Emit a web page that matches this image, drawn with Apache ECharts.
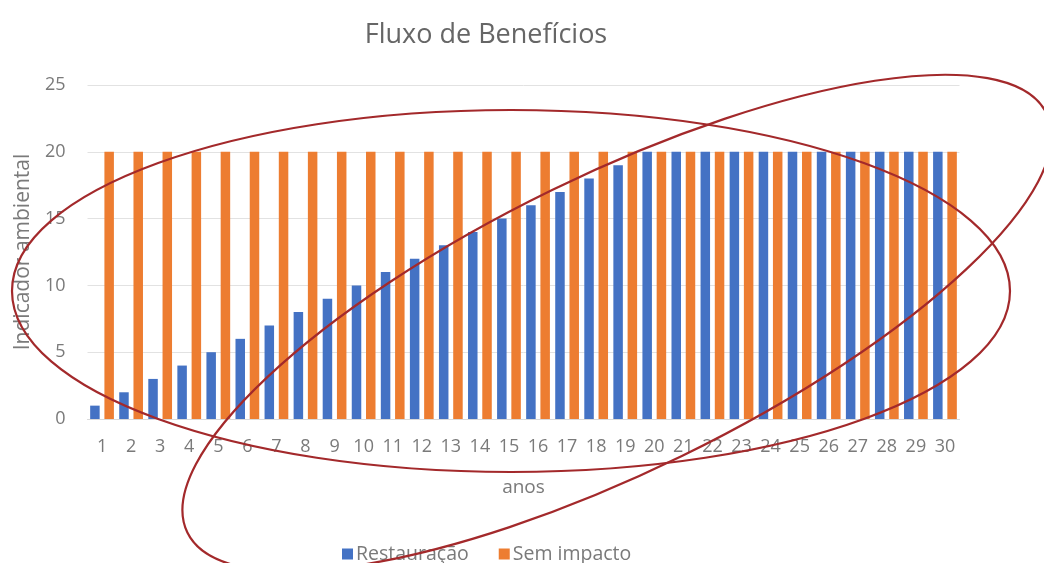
<!DOCTYPE html>
<html>
<head>
<meta charset="utf-8">
<script src="https://cdn.jsdelivr.net/npm/echarts@6/dist/echarts.min.js"></script>
<style>html,body{margin:0;padding:0;background:#fff;}#c{width:1044px;height:563px;}</style>
</head>
<body>
<div id="c"></div>
<script>
var anos = ['1','2','3','4','5','6','7','8','9','10','11','12','13','14','15','16','17','18','19','20','21','22','23','24','25','26','27','28','29','30'];
var restauracao = [1,2,3,4,5,6,7,8,9,10,11,12,13,14,15,16,17,18,19,20,20,20,20,20,20,20,20,20,20,20];
var semImpacto = [20,20,20,20,20,20,20,20,20,20,20,20,20,20,20,20,20,20,20,20,20,20,20,20,20,20,20,20,20,20];
var yTicks = [0,5,10,15,20,25];

var FONT = '"Open Sans", "Noto Sans", sans-serif';
var chart = echarts.init(document.getElementById('c'));
chart.setOption({
  animation: false,
  backgroundColor: '#ffffff',
  title: {
    text: 'Fluxo de Benefícios',
    left: 481, top: 17, textAlign: 'center',
    textStyle: { fontFamily: FONT, fontSize: 27, fontWeight: 'normal', color: '#666666' }
  },
  legend: {
    data: ['Restauração', 'Sem impacto'],
    left: 337, top: 539,
    itemWidth: 11, itemHeight: 11, itemGap: 30,
    icon: 'rect',
    textStyle: { fontFamily: FONT, fontSize: 19.5, color: '#7a7a7a', padding: [0, 0, 0, -2] }
  },
  grid: { left: 87.5, right: 84.5, top: 85, bottom: 144 },
  xAxis: {
    type: 'category',
    data: anos,
    name: 'anos',
    nameLocation: 'middle',
    nameGap: 59,
    nameTextStyle: { fontFamily: FONT, fontSize: 19, color: '#7a7a7a' },
    axisTick: { show: false },
    axisLine: { lineStyle: { color: '#d9d9d9', width: 1 } },
    axisLabel: { fontFamily: FONT, fontSize: 18, color: '#7a7a7a', margin: 19, interval: 0 }
  },
  yAxis: {
    type: 'value',
    min: yTicks[0], max: yTicks[yTicks.length - 1], interval: 5,
    name: 'Indicador ambiental',
    nameLocation: 'middle',
    nameGap: 54,
    nameTextStyle: { fontFamily: FONT, fontSize: 21, color: '#7a7a7a' },
    axisLine: { show: false },
    axisTick: { show: false },
    splitLine: { lineStyle: { color: '#e2e2e2', width: 1 } },
    axisLabel: { fontFamily: FONT, fontSize: 18, color: '#7a7a7a', margin: 22 }
  },
  series: [
    { name: 'Restauração', type: 'bar', data: restauracao, barWidth: 9.5, barGap: '50%', itemStyle: { color: '#4472C4' } },
    { name: 'Sem impacto', type: 'bar', data: semImpacto, barWidth: 9.5, barGap: '50%', itemStyle: { color: '#ED7D31' } }
  ],
  graphic: [
    { type: 'ellipse', z: 100, x: 511, y: 291, shape: { cx: 0, cy: 0, rx: 499, ry: 181 },
      style: { fill: 'none', stroke: '#a3292b', lineWidth: 2.2 } },
    { type: 'ellipse', z: 100, x: 617, y: 323, rotation: 26 * Math.PI / 180, shape: { cx: 0, cy: 0, rx: 478, ry: 148 },
      style: { fill: 'none', stroke: '#a3292b', lineWidth: 2.2 } }
  ]
});
</script>
</body>
</html>
